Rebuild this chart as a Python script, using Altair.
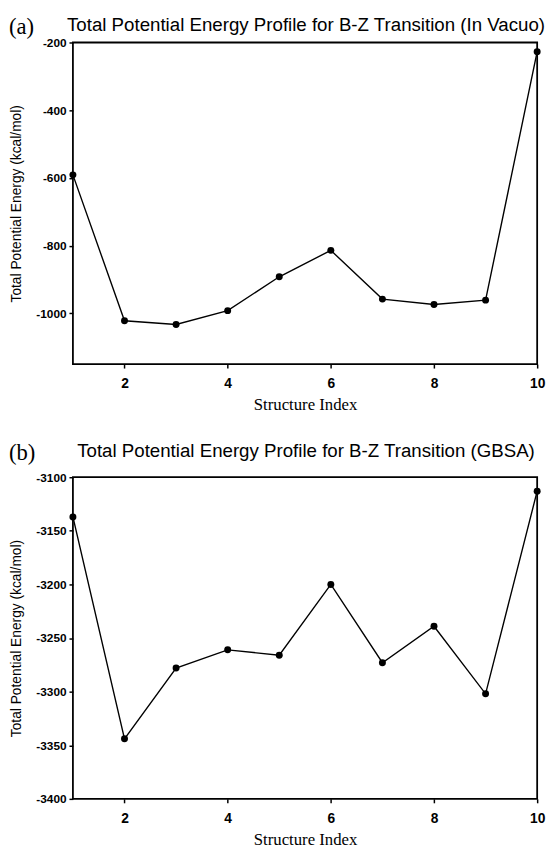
import altair as alt
import pandas as pd

# ---- data ----
structure_index = [1, 2, 3, 4, 5, 6, 7, 8, 9, 10]
energy_vacuo = [-591, -1022, -1033, -992, -892, -814, -958, -974, -961, -227]
energy_gbsa = [-3137, -3344, -3278, -3261, -3266, -3200, -3273, -3239, -3302, -3113]

x_ticks = [2, 4, 6, 8, 10]
y_ticks_vacuo = [-1000, -800, -600, -400, -200]
y_ticks_gbsa = [-3400, -3350, -3300, -3250, -3200, -3150, -3100]

panel_titles = [
    "Total Potential Energy Profile for B-Z Transition (In Vacuo)",
    "Total Potential Energy Profile for B-Z Transition (GBSA)",
]
panel_tags = ["(a)", "(b)"]

W, H = 472, 327


def panel(values, domain, yticks, title, tag, title_y, tag_y):
    df = pd.DataFrame({"idx": structure_index, "energy": values})
    x = alt.X(
        "idx:Q",
        scale=alt.Scale(domain=[1, 10], nice=False, zero=False),
        axis=alt.Axis(
            values=x_ticks, labelExpr="toString(datum.value)", title="Structure Index",
            labelFont="Liberation Sans", labelFontSize=14, labelFontWeight="bold",
            labelPadding=9, tickSize=4, labelFlush=False, labelOverlap=False,
            titleFont="Liberation Serif", titleFontSize=17, titleFontWeight="normal",
            titlePadding=6, domain=False, grid=False,
        ),
    )
    y = alt.Y(
        "energy:Q",
        scale=alt.Scale(domain=domain, nice=False, zero=False),
        axis=alt.Axis(
            values=yticks, labelExpr="toString(datum.value)",
            title="Total Potential Energy (kcal/mol)",
            labelFont="Liberation Sans", labelFontSize=12, labelFontWeight="bold",
            labelPadding=3, tickSize=4, labelFlush=False, labelOverlap=False,
            titleFont="Liberation Sans", titleFontSize=14, titleFontWeight="normal",
            titlePadding=13, domain=False, grid=False,
        ),
    )
    base = alt.Chart(df)
    line = base.mark_line(color="black", strokeWidth=1.4).encode(x=x, y=y)
    pts = base.mark_circle(color="black", size=50, opacity=1).encode(x=x, y=y)
    ttl = alt.Chart(pd.DataFrame({"t": [title]})).mark_text(
        font="Liberation Sans", fontSize=19, align="center", baseline="alphabetic", color="black"
    ).encode(x=alt.value(W / 2 + 1), y=alt.value(title_y), text="t:N")
    tg = alt.Chart(pd.DataFrame({"t": [tag]})).mark_text(
        font="Liberation Serif", fontSize=23, align="left", baseline="alphabetic", color="black"
    ).encode(x=alt.value(-65), y=alt.value(tag_y), text="t:N")
    return alt.layer(line, pts, ttl, tg).properties(width=W, height=H)


top = panel(energy_vacuo, [-1150, -200], y_ticks_vacuo, panel_titles[0], panel_tags[0], -12, -9)
bottom = panel(energy_gbsa, [-3400, -3100], y_ticks_gbsa, panel_titles[1], panel_tags[1], -21, -18)

chart = (
    alt.vconcat(top, bottom, spacing=115, bounds="flush")
    .properties(padding=0, background="white")
    .configure_view(stroke="black", strokeWidth=1.8)
    .configure_axis(tickColor="black", tickWidth=1.5, labelColor="black", titleColor="black")
)

chart.save("out.html", embed_options={"renderer": "svg", "actions": False})
